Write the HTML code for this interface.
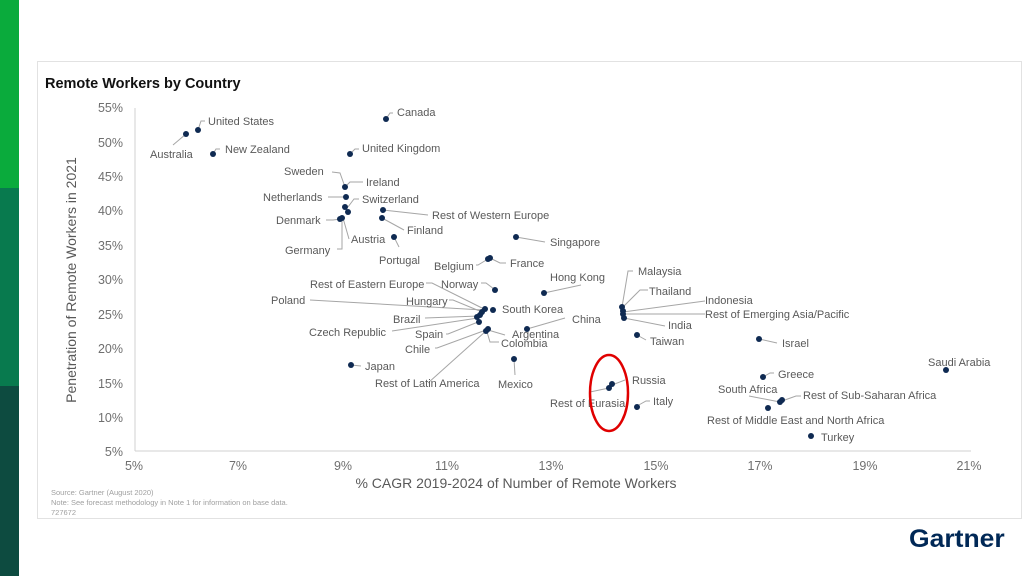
<!DOCTYPE html>
<html><head><meta charset="utf-8"><style>
body{margin:0;width:1024px;height:576px;overflow:hidden;background:#fff;font-family:"Liberation Sans",sans-serif}
</style></head><body>
<svg width="1024" height="576" xmlns="http://www.w3.org/2000/svg" font-family="Liberation Sans, sans-serif">
<rect x="0" y="0" width="19" height="188" fill="#0aab3c"/>
<rect x="0" y="188" width="19" height="198" fill="#087a4e"/>
<rect x="0" y="386" width="19" height="190" fill="#0d4b40"/>
<rect x="37.5" y="61.5" width="984" height="457" fill="none" stroke="#e2e2e2"/>
<text x="45" y="88" font-size="14.5" font-weight="bold" fill="#111">Remote Workers by Country</text>
<line x1="135" y1="108" x2="135" y2="451" stroke="#d0d0d0"/>
<line x1="135" y1="451" x2="971" y2="451" stroke="#d0d0d0"/>
<g font-size="12.5" fill="#6f6f6f" text-anchor="end">
<text x="123" y="112">55%</text><text x="123" y="147">50%</text><text x="123" y="181">45%</text><text x="123" y="215">40%</text><text x="123" y="250">35%</text><text x="123" y="284">30%</text><text x="123" y="319">25%</text><text x="123" y="353">20%</text><text x="123" y="388">15%</text><text x="123" y="422">10%</text><text x="123" y="456">5%</text>
</g>
<g font-size="12.5" fill="#6f6f6f" text-anchor="middle">
<text x="134" y="470">5%</text><text x="238" y="470">7%</text><text x="343" y="470">9%</text><text x="447" y="470">11%</text><text x="551" y="470">13%</text><text x="656" y="470">15%</text><text x="760" y="470">17%</text><text x="865" y="470">19%</text><text x="969" y="470">21%</text>
<text x="516" y="488" font-size="14" fill="#595959">% CAGR 2019-2024 of Number of Remote Workers</text>
<text transform="translate(76,280) rotate(-90)" font-size="14" fill="#595959">Penetration of Remote Workers in 2021</text>
</g>
<g font-size="7.5" fill="#a0a0a0">
<text x="51" y="495">Source: Gartner (August 2020)</text>
<text x="51" y="505">Note: See forecast methodology in Note 1 for information on base data.</text>
<text x="51" y="515">727672</text>
</g>
<text x="909" y="547" font-size="25" font-weight="bold" fill="#002856" transform="translate(909,0) scale(1.06,1) translate(-909,0)">Gartner</text>
<g stroke="#a6a6a6" fill="none" stroke-width="1">
<path d="M186 134 L173 145"/><path d="M198 130 L201 121 L205 121"/><path d="M213 154 L216 149 L220 149"/>
<path d="M386 119 L390 113 L393 113"/><path d="M350 154 L355 149 L359 149"/>
<path d="M345 187 L340 173 L332 172"/><path d="M345 187 L350 182 L363 182"/>
<path d="M346 197 L328 197"/><path d="M348 207 L354 199 L359 199"/>
<path d="M341 219 L333 220 L326 220"/><path d="M342 218 L342 249 L337 249"/>
<path d="M343 218 L349 239"/>
<path d="M383 210 L428 215"/><path d="M382 218 L404 230"/><path d="M394 237 L399 247"/>
<path d="M516 237 L545 242"/><path d="M488 259 L478 265 L476 265"/><path d="M490 258 L500 263 L506 263"/>
<path d="M544 293 L581 285"/><path d="M494 289 L486 283 L481 283"/>
<path d="M484 309 L432 283 L426 283"/><path d="M483 310 L310 300"/><path d="M482 312 L453 300 L449 300"/>
<path d="M479 316 L425 318"/><path d="M478 318 L392 331"/><path d="M478 322 L448 334 L446 334"/>
<path d="M486 330 L437 348 L435 348"/><path d="M486 331 L428 383"/>
<path d="M488 330 L505 335"/><path d="M487 332 L490 342 L499 342"/>
<path d="M527 329 L565 318"/><path d="M514 359 L515 375"/><path d="M351 365 L361 366"/>
<path d="M622 307 L628 271 L633 271"/><path d="M622 308 L640 290 L648 290"/>
<path d="M623 312 L705 301"/><path d="M623 314 L705 314"/><path d="M624 318 L665 326"/>
<path d="M637 335 L646 340"/><path d="M612 385 L625 380"/><path d="M609 388 L590 392"/>
<path d="M637 406 L646 401 L650 401"/><path d="M759 339 L777 343"/><path d="M763 377 L770 373 L774 373"/>
<path d="M780 402 L749 396"/><path d="M782 401 L796 396 L801 396"/>
</g>
<g fill="#0f2a52">
<circle cx="186" cy="134" r="3"/><circle cx="198" cy="130" r="3"/><circle cx="213" cy="154" r="3"/>
<circle cx="386" cy="119" r="3"/><circle cx="350" cy="154" r="3"/>
<circle cx="345" cy="187" r="3"/><circle cx="346" cy="197" r="3"/><circle cx="345" cy="207" r="3"/><circle cx="348" cy="212" r="3"/><circle cx="340" cy="219" r="3"/><circle cx="342" cy="218" r="3"/>
<circle cx="383" cy="210" r="3"/><circle cx="382" cy="218" r="3"/><circle cx="394" cy="237" r="3"/>
<circle cx="516" cy="237" r="3"/><circle cx="488" cy="259" r="3"/><circle cx="490" cy="258" r="3"/>
<circle cx="544" cy="293" r="3"/><circle cx="495" cy="290" r="3"/>
<circle cx="485" cy="309" r="3"/><circle cx="482" cy="312" r="3"/><circle cx="480" cy="315" r="3"/><circle cx="477" cy="317" r="3"/><circle cx="479" cy="322" r="3"/>
<circle cx="493" cy="310" r="3"/><circle cx="486" cy="331" r="3"/><circle cx="488" cy="329" r="3"/>
<circle cx="527" cy="329" r="3"/><circle cx="514" cy="359" r="3"/><circle cx="351" cy="365" r="3"/>
<circle cx="622" cy="307" r="3"/><circle cx="623" cy="311" r="3"/><circle cx="623" cy="314" r="3"/><circle cx="624" cy="318" r="3"/>
<circle cx="637" cy="335" r="3"/><circle cx="612" cy="384" r="3"/><circle cx="609" cy="388" r="3"/><circle cx="637" cy="407" r="3"/>
<circle cx="759" cy="339" r="3"/><circle cx="946" cy="370" r="3"/><circle cx="763" cy="377" r="3"/>
<circle cx="780" cy="402" r="3"/><circle cx="782" cy="400" r="3"/><circle cx="768" cy="408" r="3"/><circle cx="811" cy="436" r="3"/>
</g>
<g font-size="11" fill="#595959">
<text x="208" y="125">United States</text><text x="150" y="158">Australia</text><text x="225" y="153">New Zealand</text>
<text x="397" y="116">Canada</text><text x="362" y="152">United Kingdom</text>
<text x="284" y="175">Sweden</text><text x="366" y="186">Ireland</text><text x="263" y="201">Netherlands</text><text x="362" y="203">Switzerland</text>
<text x="276" y="224">Denmark</text><text x="351" y="243">Austria</text><text x="285" y="254">Germany</text>
<text x="432" y="219">Rest of Western Europe</text><text x="407" y="234">Finland</text><text x="379" y="264">Portugal</text>
<text x="550" y="246">Singapore</text><text x="434" y="270">Belgium</text><text x="510" y="267">France</text>
<text x="550" y="281">Hong Kong</text><text x="441" y="288">Norway</text><text x="310" y="288">Rest of Eastern Europe</text>
<text x="271" y="304">Poland</text><text x="406" y="305">Hungary</text><text x="502" y="313">South Korea</text>
<text x="393" y="323">Brazil</text><text x="309" y="336">Czech Republic</text><text x="415" y="338">Spain</text>
<text x="572" y="323">China</text><text x="512" y="338">Argentina</text><text x="501" y="347">Colombia</text>
<text x="405" y="353">Chile</text><text x="365" y="370">Japan</text><text x="375" y="387">Rest of Latin America</text><text x="498" y="388">Mexico</text>
<text x="638" y="275">Malaysia</text><text x="649" y="295">Thailand</text><text x="705" y="304">Indonesia</text>
<text x="705" y="318">Rest of Emerging Asia/Pacific</text><text x="668" y="329">India</text><text x="650" y="345">Taiwan</text>
<text x="782" y="347">Israel</text><text x="928" y="366">Saudi Arabia</text><text x="778" y="378">Greece</text>
<text x="718" y="393">South Africa</text><text x="803" y="399">Rest of Sub-Saharan Africa</text>
<text x="707" y="424">Rest of Middle East and North Africa</text><text x="821" y="441">Turkey</text>
<text x="632" y="384">Russia</text><text x="550" y="407">Rest of Eurasia</text><text x="653" y="405">Italy</text>
</g>
<ellipse cx="609" cy="393" rx="19" ry="38" fill="none" stroke="#e00000" stroke-width="2.5"/>
</svg>
</body></html>
